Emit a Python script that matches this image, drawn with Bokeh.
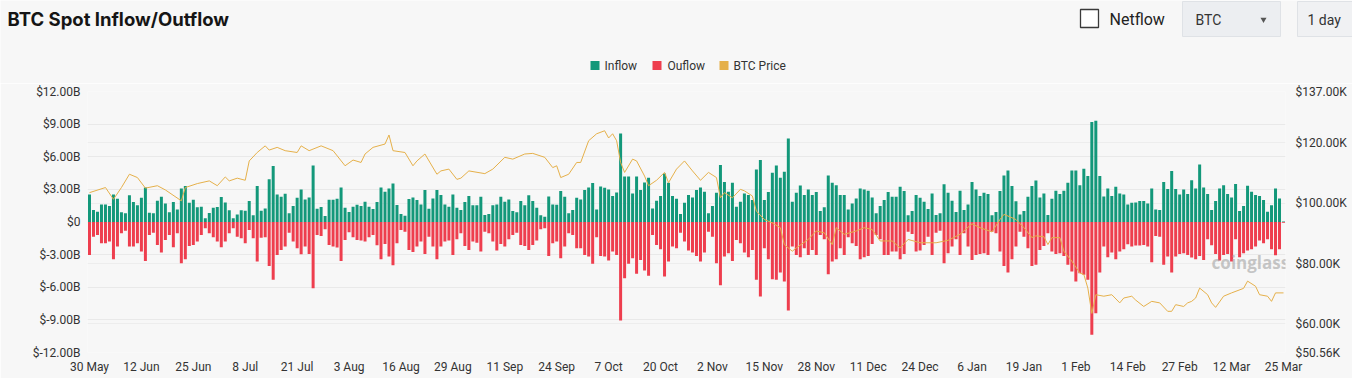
from bokeh.plotting import figure
from bokeh.models import Range1d, LinearAxis, FixedTicker, CustomJSTickFormatter, Grid, ColumnDataSource
from bokeh.layouts import column
from bokeh.embed import file_html
from bokeh.resources import INLINE
from bokeh.core.properties import value

# ---------------- data ----------------
tick_labels = ["30 May", "12 Jun", "25 Jun", "8 Jul", "21 Jul", "3 Aug", "16 Aug", "29 Aug",
               "11 Sep", "24 Sep", "7 Oct", "20 Oct", "2 Nov", "15 Nov", "28 Nov", "11 Dec",
               "24 Dec", "6 Jan", "19 Jan", "1 Feb", "14 Feb", "27 Feb", "12 Mar", "25 Mar"]

# daily inflow, $B (day 0 = 30 May)
inflow = [
    2.54, 1.10, 0.95, 1.62, 1.62, 1.47, 2.54, 2.14, 0.89, 0.80,
    2.45, 1.83, 1.53, 2.23, 3.18, 0.86, 0.80, 1.96, 2.32, 1.71,
    0.89, 1.83, 1.16, 3.09, 3.30, 1.77, 2.05, 1.35, 1.41, 0.34,
    0.83, 1.31, 1.38, 2.29, 1.80, 1.07, 0.34, 0.70, 1.07, 1.04,
    1.93, 0.61, 3.30, 1.04, 1.25, 3.94, 5.14, 2.54, 2.32, 2.60,
    0.80, 1.47, 2.23, 3.00, 2.08, 2.26, 5.20, 1.22, 1.38, 0.55,
    2.05, 2.05, 2.14, 3.18, 1.31, 0.92, 1.41, 1.59, 1.47, 1.87,
    1.41, 1.19, 1.83, 3.18, 2.78, 3.09, 3.55, 1.56, 0.73, 0.58,
    2.11, 2.26, 2.02, 1.62, 2.94, 1.22, 2.17, 2.94, 2.48, 1.62,
    1.41, 2.54, 1.31, 1.10, 1.83, 2.39, 1.53, 1.53, 2.32, 0.64,
    0.73, 1.53, 1.62, 2.32, 1.87, 2.08, 1.01, 0.89, 1.93, 1.53,
    2.45, 1.93, 1.31, 0.61, 0.49, 2.35, 1.62, 1.59, 2.84, 2.32,
    0.80, 1.10, 2.23, 2.08, 2.94, 3.18, 3.58, 1.16, 3.27, 3.15,
    3.00, 2.39, 2.72, 8.13, 4.19, 4.19, 2.63, 4.19, 2.94, 3.64,
    4.07, 1.25, 1.96, 2.39, 4.46, 3.61, 2.39, 2.14, 0.73, 1.77,
    2.48, 2.26, 2.94, 3.18, 2.78, 0.80, 1.47, 2.69, 5.23, 3.67,
    2.78, 3.61, 1.41, 1.87, 2.63, 2.48, 2.02, 4.83, 5.69, 2.02,
    2.75, 4.53, 5.20, 4.07, 4.62, 7.68, 1.87, 2.69, 3.36, 2.48,
    3.00, 2.48, 2.75, 1.01, 1.35, 4.28, 3.61, 3.39, 2.48, 2.48,
    1.16, 1.71, 2.17, 3.09, 3.00, 2.87, 2.26, 0.80, 1.47, 2.02,
    2.75, 2.32, 2.32, 3.24, 2.84, 0.61, 1.01, 2.48, 2.23, 1.87,
    1.19, 2.63, 0.64, 0.80, 3.46, 2.69, 1.96, 0.92, 2.87, 1.10,
    1.62, 3.67, 3.00, 2.39, 2.69, 2.57, 0.61, 0.92, 2.84, 4.28,
    4.74, 3.30, 1.90, 0.70, 1.01, 2.32, 3.30, 3.82, 2.26, 2.63,
    0.64, 2.14, 2.87, 2.57, 2.87, 3.61, 4.74, 4.74, 3.39, 4.90,
    4.22, 9.20, 9.30, 4.22, 2.34, 3.09, 2.39, 3.24, 2.63, 2.54,
    1.62, 1.77, 1.80, 1.93, 1.93, 1.71, 3.09, 1.16, 1.10, 3.67,
    3.03, 4.68, 3.03, 2.54, 3.00, 2.57, 3.85, 3.09, 5.29, 3.18,
    2.57, 1.10, 1.93, 3.09, 3.39, 2.57, 2.26, 3.49, 1.01, 1.47,
    3.33, 2.78, 2.48, 2.39, 2.02, 0.95, 1.53, 3.09, 2.17, 0.05,
]

# daily outflow, $B
outflow = [
    -3.03, -1.35, -1.19, -1.96, -1.96, -1.80, -3.43, -2.26, -1.04, -0.80,
    -2.26, -2.26, -1.96, -2.72, -3.58, -1.19, -0.98, -2.11, -2.81, -1.65,
    -1.19, -2.32, -1.04, -3.79, -3.43, -2.20, -2.11, -1.80, -1.19, -0.58,
    -1.04, -1.41, -1.80, -2.32, -1.80, -1.04, -0.58, -1.35, -1.50, -1.96,
    -0.73, -1.50, -3.64, -1.44, -1.41, -4.04, -5.32, -3.03, -2.57, -2.26,
    -0.98, -1.80, -2.42, -2.97, -2.26, -2.94, -6.09, -1.19, -1.28, -0.67,
    -2.11, -2.26, -2.35, -3.58, -1.65, -0.95, -1.41, -1.65, -1.71, -1.80,
    -1.41, -1.19, -2.14, -3.43, -2.02, -3.18, -3.98, -1.96, -0.73, -0.89,
    -2.57, -2.75, -2.26, -1.80, -2.94, -1.35, -2.26, -3.43, -2.26, -1.80,
    -1.71, -3.03, -1.59, -1.04, -2.20, -2.57, -1.80, -1.90, -2.72, -0.89,
    -1.04, -1.80, -2.63, -2.02, -2.26, -1.59, -1.19, -0.98, -2.11, -2.20,
    -2.57, -2.11, -1.71, -0.67, -0.58, -3.12, -1.96, -1.80, -3.33, -2.26,
    -1.04, -1.19, -2.42, -2.42, -3.03, -3.18, -3.85, -1.41, -3.12, -3.18,
    -3.55, -2.72, -3.03, -9.05, -5.17, -3.85, -3.33, -4.77, -3.49, -4.46,
    -4.95, -1.19, -2.11, -2.51, -5.02, -3.64, -2.26, -2.42, -0.98, -1.80,
    -2.63, -2.81, -3.12, -3.64, -2.81, -0.89, -1.35, -3.79, -5.81, -3.18,
    -2.87, -3.58, -1.65, -1.96, -2.81, -3.24, -2.57, -5.32, -6.85, -2.42,
    -3.43, -5.26, -5.32, -4.65, -5.47, -8.13, -2.26, -3.03, -3.24, -2.42,
    -3.03, -2.57, -3.03, -1.19, -1.59, -4.80, -3.64, -3.43, -2.42, -3.03,
    -1.41, -1.96, -2.20, -3.43, -3.24, -3.12, -2.02, -1.19, -1.59, -3.03,
    -3.03, -2.72, -2.72, -3.43, -2.94, -0.89, -1.10, -2.72, -2.63, -2.11,
    -1.35, -3.03, -0.98, -0.80, -3.79, -2.87, -2.26, -1.59, -3.03, -1.04,
    -2.26, -3.49, -3.03, -2.94, -2.87, -3.03, -0.89, -1.04, -2.72, -4.04,
    -4.65, -3.43, -2.26, -0.89, -1.35, -2.42, -4.04, -3.94, -2.57, -2.20,
    -1.04, -2.72, -2.94, -2.87, -3.12, -3.94, -4.56, -5.47, -4.71, -4.86,
    -5.32, -10.37, -8.38, -4.65, -2.26, -3.24, -2.81, -3.43, -2.72, -2.51,
    -2.05, -2.26, -2.17, -2.17, -2.11, -2.26, -3.70, -1.28, -1.35, -3.94,
    -3.18, -4.65, -3.18, -2.94, -2.87, -3.03, -3.27, -3.43, -3.12, -3.49,
    -1.59, -2.14, -2.94, -3.55, -3.03, -2.94, -3.64, -1.59, -3.24, -2.87,
    -2.63, -2.51, -2.26, -1.71, -1.96, -1.59, -2.51, -3.06, -2.51, -0.06,
]

# BTC price ($K), read at these day offsets from 30 May
price_day = [0, 4, 6, 8, 10, 12, 14, 17, 19, 23, 24, 27, 30, 32, 34, 35, 37, 39, 40, 42,
             44, 45, 47, 49, 52, 53, 55, 58, 61, 64, 66, 68, 69, 71, 74, 75, 76, 79, 81, 82,
             84, 87, 88, 90, 92, 93, 95, 99, 101, 104, 106, 109, 111, 114, 116, 117, 118, 120, 122, 123,
             125, 127, 129, 130, 131, 132, 133, 134, 136, 137, 139, 140, 142, 144, 145, 147, 149, 151, 153, 155,
             157, 158, 159, 161, 163, 164, 166, 167, 169, 171, 173, 174, 176, 177, 180, 182, 184, 186, 187, 189,
             192, 194, 196, 198, 201, 203, 205, 208, 212, 215, 218, 221, 223, 226, 228, 229, 231, 232, 234, 236,
             237, 239, 240, 241, 243, 244, 246, 248, 249, 250, 251, 252, 254, 256, 258, 259, 261, 262, 264, 266,
             268, 270, 271, 272, 274, 275, 276, 277, 278, 280, 281, 282, 284, 286, 289, 290, 292, 293, 295, 296,
             297, 299]
price = [103.5, 105.2, 101.3, 105.2, 109.6, 108.5, 105.0, 105.8, 104.4, 100.8, 105.2, 106.5, 107.4, 105.8, 108.7, 107.4, 108.3, 107.6, 114.0, 116.8,
         119.0, 117.6, 118.5, 117.4, 116.8, 119.0, 117.4, 119.0, 117.4, 112.4, 114.3, 113.5, 116.3, 118.5, 119.6, 122.6, 117.4, 116.8, 112.4, 114.0,
         116.3, 109.6, 110.7, 111.3, 107.9, 108.3, 110.7, 109.8, 111.3, 115.2, 114.6, 116.3, 116.5, 115.2, 111.8, 112.4, 108.5, 109.6, 113.5, 113.5,
         120.7, 123.0, 124.0, 121.6, 123.0, 120.7, 113.5, 110.2, 114.6, 114.0, 109.0, 105.8, 107.6, 110.2, 106.8, 111.3, 114.0, 110.7, 107.6, 110.2,
         108.5, 101.8, 103.5, 101.8, 104.6, 104.1, 102.4, 97.4, 94.6, 93.5, 91.9, 86.3, 84.1, 85.2, 88.0, 90.8, 90.2, 86.3, 91.9, 89.7,
         90.8, 91.9, 91.3, 87.5, 87.5, 85.2, 88.0, 86.9, 86.9, 87.7, 89.7, 93.2, 91.9, 90.5, 94.6, 96.3, 95.2, 94.6, 91.9, 88.6,
         89.2, 88.9, 86.3, 88.6, 88.6, 84.1, 80.8, 76.9, 76.4, 71.9, 63.5, 69.7, 69.2, 69.7, 67.0, 68.6, 69.2, 67.9, 65.8, 67.5,
         67.0, 64.2, 64.2, 66.4, 65.8, 67.0, 67.5, 68.6, 71.9, 69.7, 67.0, 65.5, 69.2, 70.3, 71.8, 74.2, 72.5, 69.7, 69.2, 67.5,
         70.3, 70.3]

left_ticks = [-12, -9, -6, -3, 0, 3, 6, 9, 12]
price_ticks = [50.56, 60, 80, 100, 120, 137]
legend_names = ["Inflow", "Ouflow", "BTC Price"]

# ---------------- style ----------------
BG = "#f7f7f7"
GREEN = "#13987a"
RED = "#ee3e4e"
YELLOW = "#e5b04a"
TXT = "#333333"
FONT = "Roboto"
W = 1352
HH = 83      # header height
MH = 295     # main chart height

# ---------------- header ----------------
hdr = figure(width=W, height=HH, x_range=Range1d(0, W), y_range=Range1d(HH, 0),
             output_backend="svg", toolbar_location=None, min_border=0,
             x_axis_location=None, y_axis_location=None,
             background_fill_color=BG, border_fill_color=BG, outline_line_color=None)
hdr.grid.visible = False
hdr.frame_align = False

hdr.text(x=[7], y=[18], text=["BTC Spot Inflow/Outflow"], text_font=value("Inter"),
         text_font_style="bold", text_font_size="18.5px", text_baseline="middle",
         text_color="#151515")

# Netflow checkbox
hdr.rect(x=[1089], y=[18], width=18, height=18, fill_color="#ffffff",
         line_color="#3a3a3a", line_width=1.3)
hdr.text(x=[1109], y=[19], text=["Netflow"], text_font=value(FONT), text_font_size="16px",
         text_baseline="middle", text_color="#222222")

# BTC selector
hdr.quad(left=[1182], right=[1280], top=[1], bottom=[36], fill_color="#eceef1",
         line_color="#dfe2e6", line_width=1)
hdr.text(x=[1195], y=[19], text=["BTC"], text_font=value(FONT), text_font_size="14px",
         text_baseline="middle", text_color="#333333")
hdr.scatter(x=[1263], y=[19], marker="inverted_triangle", size=6, fill_color="#555555",
            line_color=None)

# 1 day selector
hdr.quad(left=[1297], right=[1370], top=[1], bottom=[36], fill_color="#f0f1f3",
         line_color="#dfe2e6", line_width=1)
hdr.text(x=[1307], y=[19], text=["1 day"], text_font=value(FONT), text_font_size="14px",
         text_baseline="middle", text_color="#333333")

# legend
hdr.rect(x=[594.5, 656.5, 723.5], y=[65, 65, 65], width=9, height=9,
         fill_color=[GREEN, RED, YELLOW], line_color=None)
hdr.text(x=[604, 667, 733], y=[65.5, 65.5, 65.5], text=legend_names, text_font=value(FONT),
         text_font_size="12px", text_baseline="middle", text_color=TXT)

# ---------------- main chart ----------------
n = len(inflow)
src = ColumnDataSource(dict(x=list(range(n)), inflow=inflow, outflow=outflow))

p = figure(width=W, height=MH, x_range=Range1d(-0.5, n - 0.5), y_range=Range1d(-12, 12),
           output_backend="svg", toolbar_location=None,
           min_border_left=87, min_border_right=W - 1285, min_border_top=8,
           min_border_bottom=MH - 269,
           background_fill_color=BG, border_fill_color=BG, outline_line_color=None)
p.frame_align = False

p.extra_y_ranges = {"price": Range1d(price_ticks[0], price_ticks[-1])}
right_axis = LinearAxis(y_range_name="price", ticker=FixedTicker(ticks=price_ticks),
                        formatter=CustomJSTickFormatter(code='return "$" + tick.toFixed(2) + "K";'))
p.add_layout(right_axis, "right")

p.yaxis[0].ticker = FixedTicker(ticks=left_ticks)
p.yaxis[0].formatter = CustomJSTickFormatter(
    code='return tick == 0 ? "$0" : "$" + tick.toFixed(2) + "B";')

tick_pos = [13 * k for k in range(len(tick_labels))]
p.xaxis.ticker = FixedTicker(ticks=tick_pos)
p.xaxis.major_label_overrides = {t: lab for t, lab in zip(tick_pos, tick_labels)}

for ax in p.axis:
    ax.axis_line_color = None
    ax.major_tick_line_color = None
    ax.minor_tick_line_color = None
    ax.major_tick_out = 0
    ax.major_tick_in = 0
    ax.minor_tick_out = 0
    ax.minor_tick_in = 0
    ax.major_label_text_font = FONT
    ax.major_label_text_font_size = "12px"
    ax.major_label_text_color = TXT
p.xaxis.major_label_standoff = 7
p.yaxis[0].major_label_standoff = 7
right_axis.major_label_standoff = 10

p.xgrid.visible = False
p.ygrid.ticker = FixedTicker(ticks=left_ticks)
p.ygrid.grid_line_color = "#e9e9e9"
p.add_layout(Grid(dimension=1, ticker=FixedTicker(ticks=price_ticks[1:-1]),
                  y_range_name="price", grid_line_color="#ededed"))

p.vbar(x="x", top="inflow", bottom=0, width=0.75, source=src, fill_color=GREEN, line_color=None)
p.vbar(x="x", top=0, bottom="outflow", width=0.75, source=src, fill_color=RED, line_color=None)

p.line(x=price_day, y=price, y_range_name="price", line_color=YELLOW, line_width=1)

# watermark
p.text(x=[281], y=[-3.7], text=["coinglass"], text_font=value("Open Sans"),
       text_font_style="bold", text_font_size="17px", text_baseline="middle",
       text_color="#9a9a9a", text_alpha=0.55)

layout = column(hdr, p, spacing=0)
open("out.html", "w").write(file_html(layout, INLINE))
